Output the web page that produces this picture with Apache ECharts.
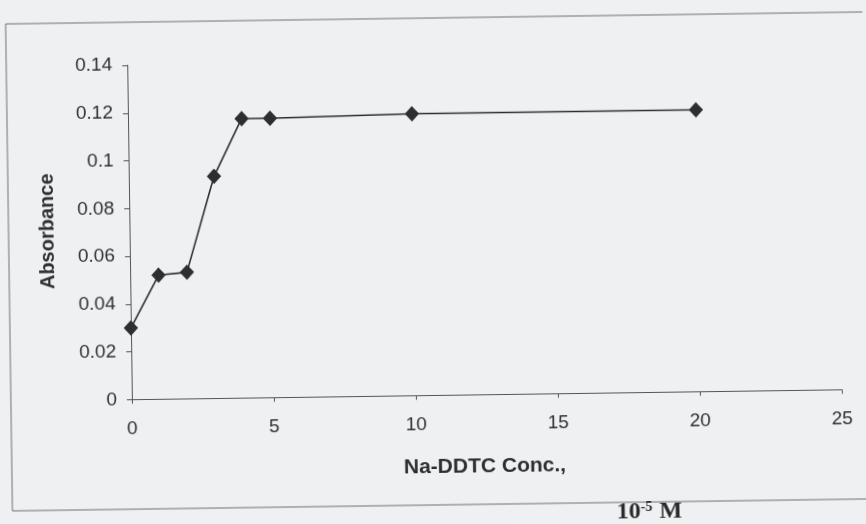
<!DOCTYPE html>
<html>
<head>
<meta charset="utf-8">
<script src="https://cdn.jsdelivr.net/npm/echarts@6.0.0/dist/echarts.min.js"></script>
<style>
  html, body { margin: 0; padding: 0; background: #eef0f2; overflow: hidden; }
  #chart { width: 866px; height: 524px; transform: rotate(-0.8deg); transform-origin: 50% 50%; }
</style>
</head>
<body>
<div id="chart"></div>
<script>
// Na-DDTC concentration (10^-5 M) and measured absorbance
const concentration = [0, 1, 2, 3, 4, 5, 10, 20];
const absorbance = [0.030, 0.052, 0.053, 0.093, 0.117, 0.117, 0.118, 0.118];

// Axis ranges
const xRange = [0, 25];
const xStep = 5;
const yRange = [0, 0.14];
const yStep = 0.02;

// Axis titles
const yTitle = 'Absorbance';
const xTitle = 'Na-DDTC Conc.,';

const chart = echarts.init(document.getElementById('chart'), null, { renderer: 'canvas' });

const sans = "'Liberation Sans', Arial, sans-serif";
const serif = "'Liberation Serif', 'Times New Roman', serif";
const inkText = '#2f2f2f';
const inkAxis = '#555';

chart.setOption({
  backgroundColor: '#eef0f2',
  animation: false,
  grid: { left: 130, top: 61, right: 26, bottom: 128.5, containLabel: false },
  xAxis: {
    type: 'value',
    min: xRange[0], max: xRange[1], interval: xStep,
    axisLine: { show: true, onZero: false, lineStyle: { color: inkAxis, width: 1 } },
    axisTick: { show: true, inside: false, length: 4, lineStyle: { color: inkAxis } },
    splitLine: { show: false },
    axisLabel: { color: inkText, fontFamily: sans, fontSize: 19, margin: 20 }
  },
  yAxis: {
    type: 'value',
    min: yRange[0], max: yRange[1], interval: yStep,
    axisLine: { show: true, lineStyle: { color: inkAxis, width: 1 } },
    axisTick: { show: true, inside: false, length: 5, lineStyle: { color: inkAxis } },
    splitLine: { show: false },
    axisLabel: { color: inkText, fontFamily: sans, fontSize: 19, margin: 15 }
  },
  series: [{
    type: 'line',
    data: concentration.map((c, i) => [c, absorbance[i]]),
    symbol: 'diamond',
    symbolSize: [13, 14],
    showSymbol: true,
    lineStyle: { color: '#2e2e2e', width: 1.6 },
    itemStyle: { color: '#2e2e2e', borderColor: '#2e2e2e' },
    emphasis: { disabled: true }
  }],
  graphic: [
    {
      type: 'rect',
      shape: { x: 9, y: 18, width: 900, height: 487 },
      style: { fill: 'none', stroke: '#707070', lineWidth: 1 },
      silent: true, z: 0
    },
    {
      type: 'text',
      x: 48.5, y: 226,
      rotation: Math.PI / 2,
      style: {
        text: yTitle, fill: inkText, font: 'bold 20px ' + sans,
        align: 'center', verticalAlign: 'middle'
      },
      silent: true
    },
    {
      type: 'text',
      x: 401, y: 467,
      style: {
        text: xTitle, fill: inkText, font: 'bold 21px ' + sans,
        align: 'left', verticalAlign: 'middle'
      },
      silent: true
    },
    {
      type: 'text',
      x: 646, y: 515,
      style: {
        text: '{b|10}{s|-5}{b| M}',
        align: 'center', verticalAlign: 'middle',
        rich: {
          b: { fontFamily: serif, fontWeight: 'bold', fontSize: 24, fill: '#2a2a2a' },
          s: { fontFamily: serif, fontWeight: 'bold', fontSize: 14, fill: '#2a2a2a', verticalAlign: 'top', padding: [0, 1, 9, 0] }
        }
      },
      silent: true
    }
  ]
});
</script>
</body>
</html>
